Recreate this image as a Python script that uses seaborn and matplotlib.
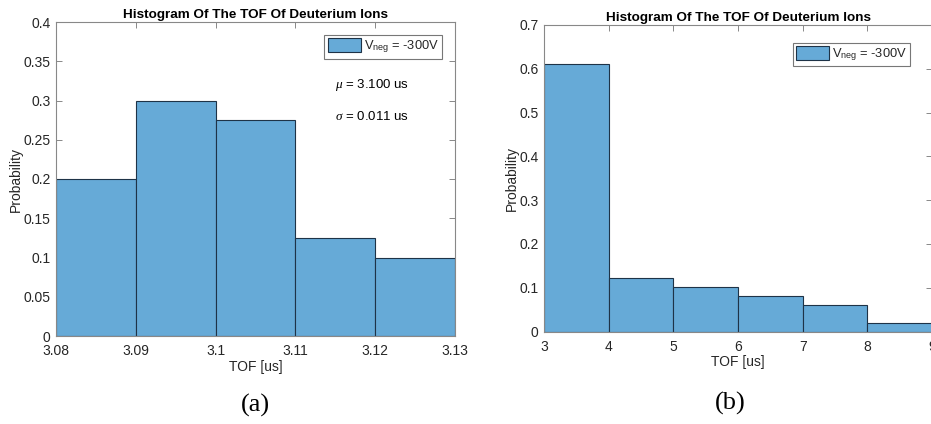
import matplotlib
matplotlib.use("Agg")
import matplotlib.pyplot as plt
import seaborn as sns
import numpy as np

# Panel (a): TOF of deuterium ions, fine binning
edges_a = [3.08, 3.09, 3.10, 3.11, 3.12, 3.13]
prob_a = [0.200, 0.300, 0.275, 0.125, 0.100]
xticks_a = [3.08, 3.09, 3.1, 3.11, 3.12, 3.13]
xticklabels_a = ["3.08", "3.09", "3.1", "3.11", "3.12", "3.13"]
yticks_a = [0, 0.05, 0.1, 0.15, 0.2, 0.25, 0.3, 0.35, 0.4]
yticklabels_a = ["0", "0.05", "0.1", "0.15", "0.2", "0.25", "0.3", "0.35", "0.4"]
mu_text = r"$\mu$ = 3.100 us"
sigma_text = r"$\sigma$ = 0.011 us"

# Panel (b): TOF of deuterium ions, coarse binning
edges_b = [3, 4, 5, 6, 7, 8, 9]
prob_b = [0.612, 0.122, 0.102, 0.082, 0.061, 0.020]
xticks_b = [3, 4, 5, 6, 7, 8, 9]
yticks_b = [0, 0.1, 0.2, 0.3, 0.4, 0.5, 0.6, 0.7]
yticklabels_b = ["0", "0.1", "0.2", "0.3", "0.4", "0.5", "0.6", "0.7"]

title = "Histogram Of The TOF Of Deuterium Ions"
legend_label = r"V$_{\mathrm{neg}}$ = -300V"

sns.set_style("white")
plt.rcParams["font.family"] = ["Liberation Sans", "DejaVu Sans"]
plt.rcParams["mathtext.fontset"] = "custom"
plt.rcParams["mathtext.rm"] = "Liberation Sans"
plt.rcParams["mathtext.it"] = "Liberation Serif:italic"

FACE = "#66aad7"
EDGE = "#1e3347"
AXC = "#262626"
SPINE = "#888888"

fig = plt.figure(figsize=(9.31, 4.24), dpi=100)
ax_a = fig.add_axes([56 / 931, 1 - 336 / 424, (455 - 56) / 931, (336 - 22) / 424])
ax_b = fig.add_axes([544 / 931, 1 - 331.5 / 424, (932 - 544) / 931, (331.5 - 25) / 424])


def draw(ax, edges, probs):
    centers = [(edges[i] + edges[i + 1]) / 2 for i in range(len(probs))]
    sns.histplot(x=centers, weights=probs, bins=edges, ax=ax,
                 color=FACE, alpha=1.0, edgecolor=EDGE, linewidth=0.8,
                 label=legend_label)
    ax.set_title(title, fontsize=9.7, fontweight="bold", color="black", pad=3)
    ax.set_ylabel("Probability", fontsize=10, color=AXC, labelpad=0.5)
    ax.set_xlabel("TOF [us]", fontsize=10, color=AXC, labelpad=1)
    for s in ax.spines.values():
        s.set_color(SPINE)
        s.set_linewidth(0.8)
    ax.tick_params(direction="in", length=4, width=0.7, color=SPINE,
                   labelsize=10, labelcolor=AXC, top=True, right=True,
                   bottom=True, left=True)
    ax.tick_params(axis="x", pad=6)
    ax.tick_params(axis="y", pad=4)
    leg = ax.legend(loc="upper right", fontsize=9.3, frameon=True, fancybox=False,
                    framealpha=1, edgecolor="#777777", handlelength=2.6,
                    handleheight=1.3, handletextpad=0.2, borderpad=0.25,
                    borderaxespad=1.0)
    leg.get_frame().set_linewidth(0.8)
    return leg


draw(ax_a, edges_a, prob_a)
ax_a.set_xlim(3.08, 3.13)
ax_a.set_ylim(0, 0.4)
ax_a.set_xticks(xticks_a, xticklabels_a)
ax_a.set_yticks(yticks_a, yticklabels_a)
ax_a.text(3.115, 0.32, mu_text, fontsize=9.5, color="black", va="center")
ax_a.text(3.115, 0.279, sigma_text, fontsize=9.5, color="black", va="center")

leg_b = draw(ax_b, edges_b, prob_b)
ax_b.set_xlim(3, 9)
ax_b.set_ylim(0, 0.7)
ax_b.set_xticks(xticks_b, [str(t) for t in xticks_b])
ax_b.set_yticks(yticks_b, yticklabels_b)
leg_b.set_bbox_to_anchor((0.0, 0.0, 0.977, 0.985), transform=ax_b.transAxes)

fig.text(255 / 931, 1 - 405 / 424, "(a)", fontsize=19, family="Liberation Serif",
         ha="center", va="center", color="black")
fig.text(730 / 931, 1 - 403 / 424, "(b)", fontsize=19, family="Liberation Serif",
         ha="center", va="center", color="black")

fig.savefig("out.png", dpi=100)
